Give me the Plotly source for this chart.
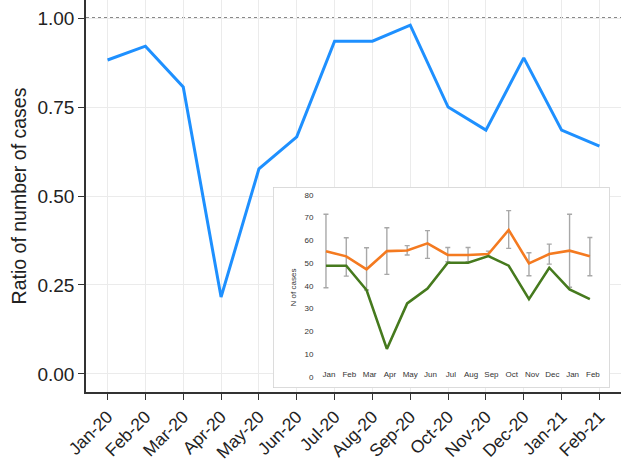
import plotly.graph_objects as go

# ---- data ----
months_main = ["Jan-20", "Feb-20", "Mar-20", "Apr-20", "May-20", "Jun-20", "Jul-20",
               "Aug-20", "Sep-20", "Oct-20", "Nov-20", "Dec-20", "Jan-21", "Feb-21"]
ratio = [0.882, 0.921, 0.806, 0.216, 0.576, 0.666, 0.935, 0.935, 0.980, 0.750,
         0.685, 0.888, 0.685, 0.640]

inset_labels = ["Jan", "Feb", "Mar", "Apr", "May", "Jun", "Jul", "Aug", "Sep", "Oct",
                "Nov", "Dec", "Jan", "Feb"]
orange_vals = [55.2, 52.9, 47.2, 55.2, 55.5, 58.6, 53.5, 53.5, 53.9, 64.5, 49.8, 53.9, 55.4, 53.0]
orange_hi = [71.4, 61.1, 56.7, 65.5, 57.6, 64.2, 56.8, 56.8, 55.2, 73.0, 54.5, 58.3, 71.4, 61.2]
orange_lo = [39.1, 44.2, 38.1, 45.0, 53.5, 52.0, 50.5, 50.5, 53.0, 56.4, 44.4, 49.5, 39.3, 44.4]
green_vals = [48.8, 48.8, 38.1, 12.2, 32.2, 38.8, 50.1, 50.1, 53.0, 48.8, 34.1, 47.9, 38.4, 34.1]
inset_yticks = [0, 10, 20, 30, 40, 50, 60, 70, 80]
main_yticks = [0.0, 0.25, 0.5, 0.75, 1.0]

FONT = "Liberation Sans, Arial, sans-serif"
idx = list(range(len(inset_labels)))

fig = go.Figure()

# main ratio line
fig.add_trace(go.Scatter(x=months_main, y=ratio, mode="lines",
                         line=dict(color="#1E90FF", width=3),
                         showlegend=False, xaxis="x", yaxis="y"))

# inset: orange with error bars
fig.add_trace(go.Scatter(
    x=idx, y=orange_vals, mode="lines",
    line=dict(color="#F47A20", width=2.6),
    error_y=dict(type="data", symmetric=False,
                 array=[h - v for h, v in zip(orange_hi, orange_vals)],
                 arrayminus=[v - l for v, l in zip(orange_vals, orange_lo)],
                 color="#A8A8A8", thickness=1.4, width=2.5),
    showlegend=False, xaxis="x2", yaxis="y2"))
# inset: green
fig.add_trace(go.Scatter(
    x=idx, y=green_vals, mode="lines",
    line=dict(color="#467A1E", width=2.6),
    showlegend=False, xaxis="x2", yaxis="y2"))

x2range = [-2.61, 13.98]
y2range = [-4.97, 83.4]

fig.update_layout(
    width=621, height=463,
    margin=dict(l=86, r=0, t=0, b=71),
    paper_bgcolor="white", plot_bgcolor="white",
    font=dict(family=FONT, color="#222222"),
    xaxis=dict(
        type="category", range=[-0.57, 13.57],
        showgrid=True, gridcolor="#EBEBEB", gridwidth=1.2,
        showline=True, linecolor="#333333", linewidth=1.5,
        ticks="outside", ticklen=6, tickcolor="#333333", tickwidth=1.3,
        tickangle=-45, tickfont=dict(size=17.5, color="#222222"),
        zeroline=False, automargin=False,
    ),
    yaxis=dict(
        range=[-0.0506, 1.0506], tickvals=main_yticks,
        tickformat=".2f",
        showgrid=True, gridcolor="#EBEBEB", gridwidth=1.2,
        showline=True, linecolor="#333333", linewidth=1.5,
        ticks="outside", ticklen=6, tickcolor="#333333", tickwidth=1.3,
        tickfont=dict(size=19, color="#222222"),
        title=dict(text="Ratio of number of cases", font=dict(size=19.5, color="#222222"), standoff=6),
        zeroline=False, automargin=False,
    ),
    xaxis2=dict(
        domain=[0.3495, 0.979], range=x2range,
        anchor="free", position=0.06,
        tickvals=[i + 0.15 for i in idx], ticktext=inset_labels,
        tickfont=dict(size=8, color="#333333"), ticks="",
        showgrid=False, zeroline=False, showline=False, automargin=False,
    ),
    yaxis2=dict(
        domain=[0.0102, 0.523], range=y2range,
        anchor="free", position=0.425,
        tickvals=inset_yticks,
        tickfont=dict(size=8, color="#333333"), ticks="",
        title=dict(text="N of cases", font=dict(size=8, color="#333333"), standoff=5),
        showgrid=False, zeroline=False, showline=False, automargin=False,
    ),
    shapes=[
        dict(type="line", xref="paper", yref="y", x0=0, x1=1, y0=1.0, y1=1.0,
             line=dict(color="#888888", width=2, dash="dot"), layer="below"),
        dict(type="rect", xref="x2", yref="y2",
             x0=x2range[0], x1=x2range[1], y0=y2range[0], y1=y2range[1],
             fillcolor="white", line=dict(color="#D0D0D0", width=1.5), layer="below"),
    ],
)

fig.write_html("out.html", config={"displayModeBar": False},
               post_script="document.body.style.margin='0';")
